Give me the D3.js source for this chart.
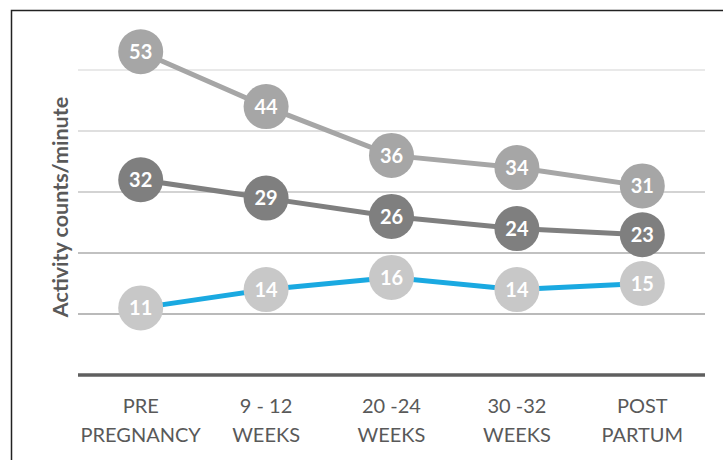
<!DOCTYPE html>
<html><head><meta charset="utf-8">
<script src="https://cdn.jsdelivr.net/npm/d3@7"></script>
<style>html,body{margin:0;padding:0;background:#fff;}svg{display:block;}</style>
</head><body>
<script>
const categories = [["PRE","PREGNANCY"],["9 - 12","WEEKS"],["20 -24","WEEKS"],["30 -32","WEEKS"],["POST","PARTUM"]];
const seriesTop = [53,44,36,34,31];
const seriesMid = [32,29,26,24,23];
const seriesLow = [11,14,16,14,15];
const yTicks = [10,20,30,40,50];
const yLabel = "Activity counts/minute";

const W=723,H=460;
const FONT="Lato, 'Open Sans', sans-serif";
const svg=d3.select("body").append("svg").attr("width",W).attr("height",H);
svg.append("rect").attr("x",11.5).attr("y",10.5).attr("width",W).attr("height",H).attr("fill","#fff").attr("stroke","#222").attr("stroke-width",1.5);

const x=d3.scalePoint().domain(d3.range(categories.length)).range([78,705]).padding(0.5);
const y=d3.scaleLinear().domain([0,60]).range([375,9]);

const gridColors={10:"#a3a3a3",20:"#acacac",30:"#c4c4c4",40:"#d4d4d4",50:"#e2e2e2"};
svg.append("g").selectAll("line").data(yTicks).join("line")
  .attr("x1",78).attr("x2",705).attr("y1",d=>y(d)).attr("y2",d=>y(d))
  .attr("stroke",d=>gridColors[d]).attr("stroke-width",1.5);
svg.append("line").attr("x1",78).attr("x2",705).attr("y1",y(0)).attr("y2",y(0)).attr("stroke","#5f5f5f").attr("stroke-width",3.5);

const xl=svg.append("g").attr("font-family",FONT).attr("font-size",20).attr("fill","#595959").attr("text-anchor","middle");
categories.forEach((c,i)=>{
  c.forEach((t,j)=>xl.append("text").attr("x",x(i)).attr("y",413+j*29).text(t));
});

svg.append("text").attr("transform","translate(68,207) rotate(-90)").attr("text-anchor","middle")
  .attr("font-family",FONT).attr("font-weight","bold").attr("font-size",21.5).attr("fill","#595959").text(yLabel);

const line=d3.line().x((d,i)=>x(i)).y(d=>y(d));
const series=[{v:seriesTop,line:"#a6a6a6",fill:"#a6a6a6"},{v:seriesMid,line:"#7f7f7f",fill:"#7f7f7f"},{v:seriesLow,line:"#1aa9e1",fill:"#c8c8c8"}];
series.forEach(s=>{
  svg.append("path").datum(s.v).attr("d",line).attr("fill","none").attr("stroke",s.line).attr("stroke-width",5);
});
series.forEach(s=>{
  const g=svg.append("g");
  g.selectAll("circle").data(s.v).join("circle").attr("cx",(d,i)=>x(i)).attr("cy",d=>y(d)).attr("r",22.5).attr("fill",s.fill);
  g.selectAll("text").data(s.v).join("text").attr("x",(d,i)=>x(i)).attr("y",d=>y(d)).attr("dy","0.36em")
    .attr("text-anchor","middle").attr("font-family",FONT).attr("font-weight","bold").attr("font-size",20).attr("fill","#fff").text(d=>d);
});
</script>
</body></html>
